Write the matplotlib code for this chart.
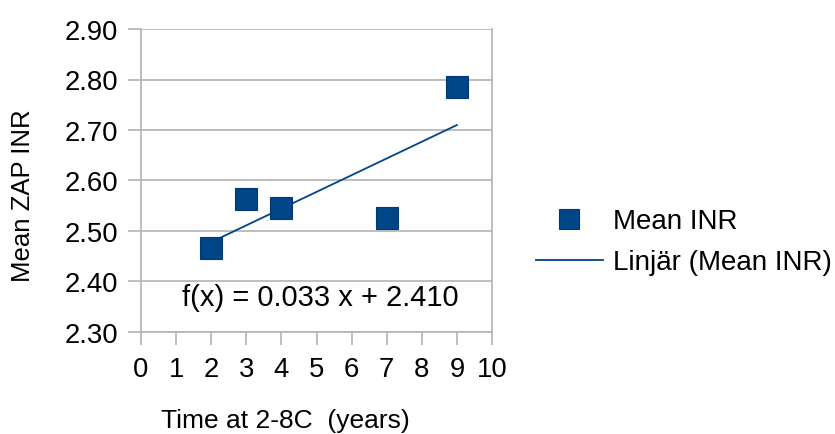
import numpy as np
import matplotlib
matplotlib.use("Agg")
import matplotlib.pyplot as plt
from matplotlib.lines import Line2D

plt.rcParams['font.family'] = ['Liberation Sans', 'DejaVu Sans']

# Data
time_years = [2, 3, 4, 7, 9]
mean_inr = [2.466, 2.563, 2.546, 2.526, 2.786]
x_ticks = list(range(0, 11))
y_ticks = [2.30, 2.40, 2.50, 2.60, 2.70, 2.80, 2.90]
series_label = "Mean INR"
trend_label = "Linjär (Mean INR)"
equation_text = "f(x) = 0.033 x + 2.410"

BLUE = "#004586"
GRID = "#b3b3b3"

fig = plt.figure(figsize=(8.35, 4.35), dpi=100)
ax = fig.add_axes([141/835, (435-333)/435, 351/835, 303/435])

ax.set_xlim(0, 10)
ax.set_ylim(2.30, 2.90)
ax.set_xticks(x_ticks)
ax.set_yticks(y_ticks)
ax.set_yticklabels([f"{v:.2f}" for v in y_ticks])

ax.yaxis.grid(True, color=GRID, linewidth=1.2)
ax.set_axisbelow(True)
for s in ax.spines.values():
    s.set_color(GRID)
    s.set_linewidth(1.2)
ax.spines['top'].set_visible(False)

ax.tick_params(axis='both', colors=GRID, length=9.5, width=1.2,
               labelcolor='black', labelsize=19.8)
ax.tick_params(axis='y', pad=7)
ax.tick_params(axis='x', pad=8)

# Trend line
coef = np.polyfit(time_years, mean_inr, 1)
xs = np.array([min(time_years), max(time_years)])
ax.plot(xs, np.polyval(coef, xs), color=BLUE, linewidth=1.3, zorder=2)

# Points
ax.plot(time_years, mean_inr, linestyle='none', marker='s', markersize=15.5,
        color=BLUE, markeredgecolor="#003a73", markeredgewidth=0.8, zorder=3)

ax.text(5.1, 2.37, equation_text, fontsize=21, ha='center', va='center')

fig.text(285/835, 1-421/435, "Time at 2-8C  (years)", fontsize=19,
         ha='center', va='center')
fig.text(23/835, 1-196/435, "Mean ZAP INR", fontsize=18.5, rotation=90,
         ha='center', va='center')

# Legend
handles = [
    Line2D([], [], linestyle='none', marker='s', markersize=14, color=BLUE,
           markeredgecolor="#003a73", markeredgewidth=0.8),
    Line2D([], [], color=BLUE, linewidth=1.3),
]
fig.legend(handles, [series_label, trend_label], loc='center left',
           bbox_to_anchor=(536/835, 1-243/435), frameon=False, fontsize=20,
           handlelength=2.4, handletextpad=0.36, labelspacing=0.54,
           borderpad=0, borderaxespad=0)

fig.savefig("out.png", dpi=100)
